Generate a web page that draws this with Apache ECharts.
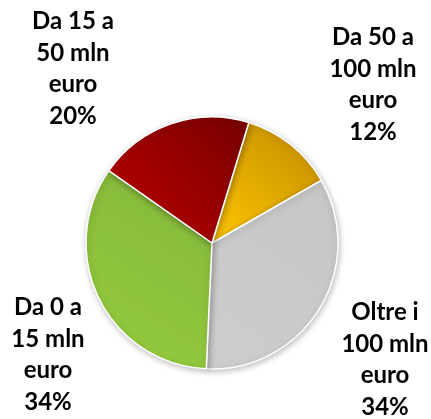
<!DOCTYPE html>
<html>
<head>
<meta charset="utf-8">
<script src="https://cdn.jsdelivr.net/npm/echarts@6/dist/echarts.min.js"></script>
<style>
  html, body { margin: 0; padding: 0; background: #fff; }
  #chart { width: 431px; height: 419px; }
</style>
</head>
<body>
<div id="chart"></div>
<script>
// fasce di fatturato (ordine orario, dall'alto)
const categories = ['Da 50 a\n100 mln\neuro', 'Oltre i\n100 mln\neuro', 'Da 0 a\n15 mln\neuro', 'Da 15 a\n50 mln\neuro'];
const values = [12, 34, 34, 20];

// colori sfumati: [chiaro, scuro]
const colors = [
	['#ffc600', '#bf8a00'],
	['#cdcdcd', '#c6c6c6'],
	['#95cc3c', '#84b63c'],
	['#c00000', '#760000'],
];
// posizione etichette
const labelPos = [
	[373, 85],
	[385, 360],
	[48, 355],
	[73, 69],
];

const chart = echarts.init(document.getElementById('chart'));
chart.setOption({
	animation: false,
	series: [
		{
			type: 'pie',
			center: [212, 243],
			radius: [0, 126],
			startAngle: 73,
			clockwise: true,
			avoidLabelOverlap: false,
			itemStyle: {
				borderColor: '#fff',
				borderWidth: 1.5,
				shadowBlur: 6,
				shadowColor: 'rgba(0,0,0,0.25)',
				shadowOffsetX: 1,
				shadowOffsetY: 2,
			},
			label: {
				show: true,
				position: 'outside',
				overflow: 'none',
				formatter: function (p) {
					return p.name + '\n' + p.value + '%';
				},
				fontFamily: 'Lato',
				fontWeight: 'bold',
				fontSize: 24,
				lineHeight: 31.5,
				color: '#000',
				align: 'center',
			},
			labelLine: { show: false },
			labelLayout: function (params) {
				const p = labelPos[params.dataIndex];
				return { x: p[0], y: p[1], align: 'center', verticalAlign: 'middle' };
			},
			data: values.map((v, i) => ({
				name: categories[i],
				value: v,
				itemStyle: {
					color: new echarts.graphic.LinearGradient(0, 1, 1, 0, [
						{ offset: 0, color: colors[i][0] },
						{ offset: 1, color: colors[i][1] },
					]),
				},
			})),
		},
	],
});
</script>
</body>
</html>
